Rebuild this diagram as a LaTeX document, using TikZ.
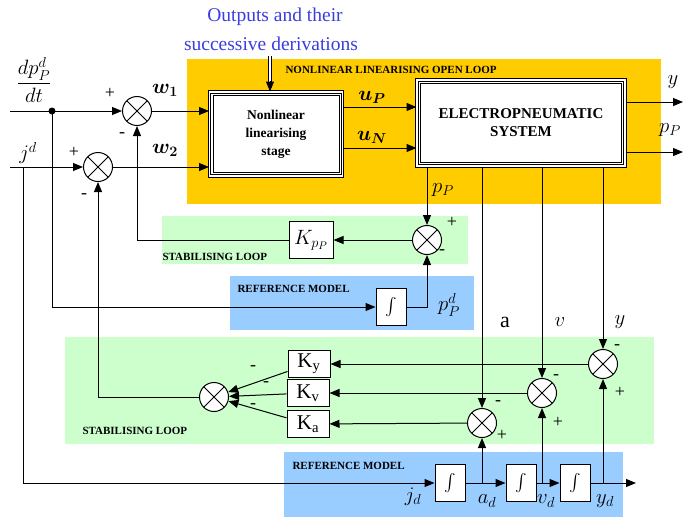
\documentclass[tikz,border=0pt]{standalone}
\usepackage{amsmath,bm}
\usepackage{fontspec}
\setmainfont{Liberation Serif}
\usetikzlibrary{arrows.meta,calc}
\definecolor{loopyellow}{RGB}{255,204,0}
\definecolor{loopgreen}{RGB}{204,255,204}
\definecolor{refblue}{RGB}{153,204,255}
\definecolor{noteblue}{RGB}{60,60,225}
\tikzset{
  arr/.style={-{Triangle[length=10pt,width=8pt]}},
  sumnode/.style={circle,draw,fill=white,minimum size=29pt,inner sep=0pt,
    path picture={\draw (path picture bounding box.north west)--(path picture bounding box.south east)
      (path picture bounding box.north east)--(path picture bounding box.south west);}},
  gainbox/.style={draw,fill=white,minimum width=42pt,minimum height=27pt,inner sep=0pt,font=\fontsize{21}{22}\selectfont},
  intbox/.style={draw,fill=white,minimum width=30pt,minimum height=37pt,inner sep=0pt,font=\fontsize{16}{18}\selectfont},
  tag/.style={anchor=west,inner sep=0pt,font=\bfseries\fontsize{11}{13}\selectfont},
  lbl/.style={inner sep=0pt,font=\fontsize{22}{24}\selectfont},
  sgn/.style={inner sep=0pt,font=\fontsize{18}{18}\selectfont},
}

\begin{document}
\begin{tikzpicture}[x=1pt,y=-1pt,line width=1pt]
            \useasboundingbox (0,0) rectangle (683,517);
            \fill[loopyellow] (187,59) rectangle (661,204);
            \fill[loopgreen] (162,216) rectangle (468,264);
            \fill[refblue] (230,276) rectangle (474,330);
            \fill[loopgreen] (65,337) rectangle (654,444);
            \fill[refblue] (284,452) rectangle (623,517);
            \node[tag] (tagnl) at (285,70) {NONLINEAR LINEARISING OPEN LOOP};
            \node[tag] (tagst1) at (162,257) {STABILISING LOOP};
            \node[tag] (tagrm1) at (237,289) {REFERENCE MODEL};
            \node[tag] (tagst2) at (82,431) {STABILISING LOOP};
            \node[tag] (tagrm2) at (292,466) {REFERENCE MODEL};
            \node[text=noteblue,font=\fontsize{19.5}{20}\selectfont,inner sep=0pt] (note1) at (275,17) {Outputs and their};
            \node[text=noteblue,font=\fontsize{19.5}{20}\selectfont,inner sep=0pt] (note2) at (271,44) {successive derivations};
            \node[draw,fill=white,double,double distance=1.5pt,minimum width=133pt,minimum height=84pt,align=center,
              font=\bfseries\fontsize{13.5}{18}\selectfont] (nls) at (276,134) {Nonlinear\\linearising\\stage};
            \node[draw,fill=white,double,double distance=1.5pt,minimum width=208pt,minimum height=86pt,align=center,
              font=\bfseries\fontsize{15}{18}\selectfont] (eps) at (521,123) {ELECTROPNEUMATIC\\SYSTEM};
            \draw[line width=0.6pt] ($(nls.north west)+(4,4)$) rectangle ($(nls.south east)+(-4,-4)$);
            \draw[line width=0.6pt] ($(eps.north west)+(4,4)$) rectangle ($(eps.south east)+(-4,-4)$);
            \node[sumnode] (s1) at (137,111) {};
            \node[sumnode] (s2) at (98,167) {};
            \node[sumnode] (sp) at (427,240) {};
            \node[sumnode] (sy) at (603,364) {};
            \node[sumnode] (sv) at (542,393) {};
            \node[sumnode] (sa) at (482,423) {};
            \node[sumnode] (bs) at (214,397) {};
            \node[gainbox,minimum width=44pt,minimum height=37pt] (kpp) at (311,240) {$K_{p_P}$};
            \node[gainbox] (ky) at (309,364) {K$_{\mathrm{y}}$};
            \node[gainbox] (kv) at (308,393) {K$_{\mathrm{v}}$};
            \node[gainbox] (ka) at (308,424) {K$_{\mathrm{a}}$};
            \node[intbox] (int0) at (391,307) {$\int$};
            \node[intbox] (int1) at (450,483) {$\int$};
            \node[intbox] (int2) at (521,483) {$\int$};
            \node[intbox] (int3) at (575,483) {$\int$};
            \coordinate (dpin) at (10,111);
            \coordinate (dpdot) at (52,111);
            \coordinate (jin) at (10,167);
            \coordinate (jtap) at (23,167);
            \coordinate (uP) at (0,107);
            \coordinate (uN) at (0,148);
            \coordinate (yout) at (683,102);
            \coordinate (pout) at (683,152);
            \coordinate (dtop) at (270,56);
            \coordinate (yend) at (636,483);
            \draw[arr] (dpin) -- (s1);
            \fill (dpdot) circle (3.5);
            \draw[arr] (s1) -- (s1 -| nls.west);
            \draw[arr] (jin) -- (s2);
            \draw[arr] (s2) -- (s2 -| nls.west);
            \draw[arr] (nls.east |- uP) -- (eps.west |- uP);
            \draw[arr] (nls.east |- uN) -- (eps.west |- uN);
            \draw[arr] (eps.east |- yout) -- (yout);
            \draw[arr] (eps.east |- pout) -- (pout);
            \draw[double,double distance=2pt,shorten >=9pt] (dtop) -- (dtop |- nls.north);
            \draw[arr] ($(dtop |- nls.north)+(0,-11)$) -- (dtop |- nls.north);
            \draw[arr] (eps.south -| sp) -- (sp);
            \draw[arr] (sp) -- (kpp);
            \draw[arr] (kpp) -| (s1);
            \draw[arr] (dpdot) |- (int0);
            \draw[arr] (int0) -| (sp);
            \draw[arr] (eps.south -| sa) -- (sa);
            \draw[arr] (eps.south -| sv) -- (sv);
            \draw[arr] (eps.south -| sy) -- (sy);
            \draw[arr] (sy) -- (ky);
            \draw[arr] (sv) -- (kv);
            \draw[arr] (sa) -- (ka);
            \draw[arr] (ky) -- (bs);
            \draw[arr] (kv) -- (bs);
            \draw[arr] (ka) -- (bs);
            \draw[arr] (bs) -| (s2);
            \draw[arr] (jtap) |- (int1);
            \draw[arr] (int1) -- (int2);
            \draw[arr] (int2) -- (int3);
            \draw[arr] (int3) -- (yend);
            \draw[arr] (int1 -| sa) -- (sa);
            \draw[arr] (int2 -| sv) -- (sv);
            \draw[arr] (int3 -| sy) -- (sy);
            \node[lbl] (ldp) at (34,80) {$\dfrac{dp_P^d}{dt}$};
            \node[lbl] (ljd) at (28,153) {$j^d$};
            \node[lbl] (lw1) at (165,90) {$\bm{w_1}$};
            \node[lbl] (lw2) at (165,150) {$\bm{w_2}$};
            \node[lbl] (luP) at (372,97) {$\bm{u_P}$};
            \node[lbl] (luN) at (372,137) {$\bm{u_N}$};
            \node[lbl] (ly) at (673,82) {$y$};
            \node[lbl] (lpo) at (670,130) {$p_P$};
            \node[lbl] (lpp) at (443,190) {$p_P$};
            \node[lbl] (lppd) at (449,305) {$p_P^d$};
            \node[lbl] (la) at (505,322) {a};
            \node[lbl] (lv) at (560,322) {$v$};
            \node[lbl] (lyy) at (620,322) {$y$};
            \node[lbl] (ljdd) at (413,497) {$j_d$};
            \node[lbl] (lad) at (487,501) {$a_d$};
            \node[lbl] (lvd) at (546,501) {$v_d$};
            \node[lbl] (lyd) at (605,501) {$y_d$};
            \node[sgn] (s1p) at (110,93) {+};
            \node[sgn] (s1m) at (122,135) {-};
            \node[sgn] (s2p) at (74,152) {+};
            \node[sgn] (s2m) at (84,196) {-};
            \node[sgn] (spp) at (452,222) {+};
            \node[sgn] (spm) at (442,252) {-};
            \node[sgn] (syp) at (620,392) {+};
            \node[sgn] (sym) at (617,347) {-};
            \node[sgn] (svp) at (558,422) {+};
            \node[sgn] (svm) at (556,377) {-};
            \node[sgn] (sap) at (502,435) {+};
            \node[sgn] (sam) at (498,403) {-};
            \node[sgn] (kym) at (253,368) {-};
            \node[sgn] (kvm) at (266,384) {-};
            \node[sgn] (kam) at (253,406) {-};
        \end{tikzpicture}
\end{document}
